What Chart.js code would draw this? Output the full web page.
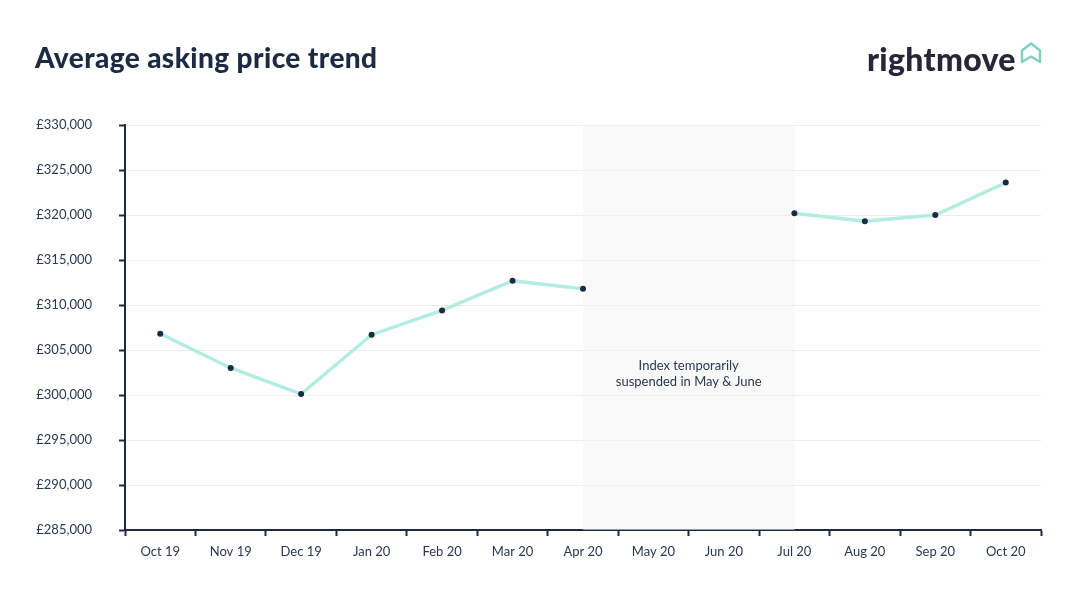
<!DOCTYPE html>
<html>
<head>
<meta charset="utf-8">
<script src="https://cdn.jsdelivr.net/npm/chart.js@4"></script>
<style>
  html,body{margin:0;padding:0;background:#fff;}
  #wrap{position:relative;width:1080px;height:605px;overflow:hidden;}
  #title{position:absolute;left:35px;top:40px;font-family:Lato,"Open Sans",sans-serif;font-weight:900;font-size:28px;color:#1c2b42;letter-spacing:0.4px;}
  #logo{position:absolute;left:867px;top:39px;font-family:Lato,"Open Sans",sans-serif;font-weight:900;font-size:32px;color:#262637;letter-spacing:0.3px;}
  #house{position:absolute;left:1019px;top:41px;}
  canvas{position:absolute;left:0;top:0;}
</style>
</head>
<body>
<div id="wrap">
  <canvas id="c" width="1080" height="605"></canvas>
  <div id="title">Average asking price trend</div>
  <div id="logo">rightmove</div>
  <svg id="house" width="24" height="24" viewBox="0 0 24 24">
    <path d="M3 21 V9.5 L12 2.5 L21 9.5 V21 L12 15.5 Z" fill="none" stroke="#7fd0bd" stroke-width="2.4" stroke-linejoin="round"/>
  </svg>
</div>
<script>
const categories = ["Oct 19","Nov 19","Dec 19","Jan 20","Feb 20","Mar 20","Apr 20","May 20","Jun 20","Jul 20","Aug 20","Sep 20","Oct 20"];
const askingPrice = [306800, 303000, 300100, 306700, 309400, 312700, 311800, null, null, 320200, 319300, 320000, 323600];
const yMin = 285000, yMax = 330000, yStep = 5000;
const suspendedFrom = 6, suspendedTo = 9;
const noteLines = ["Index temporarily", "suspended in May & June"];
const noteValue = 302300;

const navy = "#1c2b42";
const tickFont = {family: "Lato, 'Open Sans', sans-serif", size: 13};

const shadePlugin = {
  id: "shade",
  beforeDatasetsDraw(chart) {
    const {ctx, chartArea, scales} = chart;
    const x0 = scales.x.getPixelForValue(suspendedFrom);
    const x1 = scales.x.getPixelForValue(suspendedTo);
    ctx.save();
    ctx.fillStyle = "rgba(244,244,246,0.55)";
    ctx.fillRect(x0, chartArea.top, x1 - x0, chartArea.bottom - chartArea.top);
    ctx.fillStyle = "#2a3850";
    ctx.font = "13px Lato, 'Open Sans', sans-serif";
    ctx.textAlign = "center";
    ctx.textBaseline = "middle";
    const cx = (x0 + x1) / 2;
    const cy = scales.y.getPixelForValue(noteValue);
    ctx.fillText(noteLines[0], cx, cy - 8);
    ctx.fillText(noteLines[1], cx, cy + 8);
    ctx.restore();
  }
};

new Chart(document.getElementById("c"), {
  type: "line",
  data: {
    labels: categories,
    datasets: [{
      data: askingPrice,
      borderColor: "#b3ece0",
      borderWidth: 3.5,
      pointBackgroundColor: navy,
      pointBorderColor: navy,
      pointRadius: 3,
      pointBorderWidth: 0,
      spanGaps: false,
      tension: 0
    }]
  },
  options: {
    responsive: false,
    animation: false,
    devicePixelRatio: 1,
    layout: {padding: {left: 0, right: 39, top: 125, bottom: 0}},
    plugins: {legend: {display: false}, tooltip: {enabled: false}},
    scales: {
      x: {
        offset: true,
        grid: {offset: true, drawOnChartArea: false, drawTicks: true, tickLength: 6, tickColor: navy, tickWidth: 2},
        border: {color: navy, width: 2},
        ticks: {color: "#2a3850", font: tickFont, padding: 8, maxRotation: 0, autoSkip: false},
        afterFit(s) { s.height = 75; }
      },
      y: {
        min: yMin, max: yMax,
        grid: {color: "#ececec", lineWidth: 1, tickLength: 6, tickColor: navy, tickWidth: 2},
        border: {color: navy, width: 2},
        ticks: {
          stepSize: yStep, color: "#2a3850", font: tickFont, padding: 27,
          callback: v => "£" + v.toLocaleString("en-GB")
        },
        afterFit(s) { s.width = 125; }
      }
    }
  },
  plugins: [shadePlugin]
});
</script>
</body>
</html>
